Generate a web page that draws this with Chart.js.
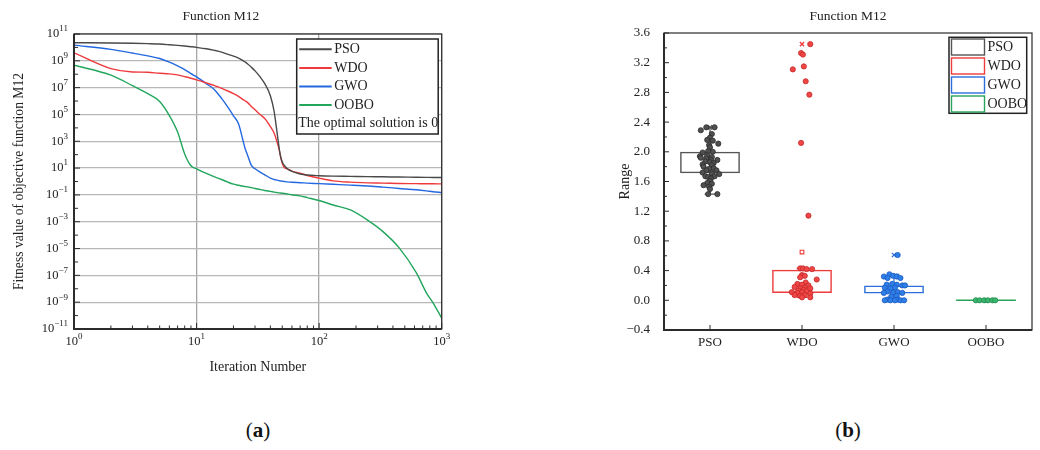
<!DOCTYPE html>
<html>
<head>
<meta charset="utf-8">
<title>Function M12</title>
<script src="https://cdn.jsdelivr.net/npm/chart.js@4.4.1/dist/chart.umd.min.js"></script>
<style>
  body { margin: 0; background: #fff; width: 1040px; height: 450px; position: relative; overflow: hidden; }
  .panel { position: absolute; top: 0; height: 390px; }
  #left { left: 0; width: 530px; }
  #right { left: 560px; width: 480px; }
  .tag { position: absolute; top: 418px; width: 100px; text-align: center;
         font: 21px "Liberation Serif", serif; color: #111; }
</style>
</head>
<body>
<div class="panel" id="left"><canvas id="curveChart"></canvas></div>
<div class="panel" id="right"><canvas id="boxChart"></canvas></div>
<div class="tag" style="left:208px">(<b>a</b>)</div>
<div class="tag" style="left:798px">(<b>b</b>)</div>
<script>
// ---- convergence curves (best fitness per iteration) ----
const iterations = [1, 2, 3, 4, 5, 6, 7, 8, 9, 10, 12, 14, 16, 18, 20, 22, 24, 25, 26, 28, 30, 33, 36, 40,
  43, 45, 47, 48, 50, 52, 55, 60, 70, 80, 100, 130, 180, 250, 330, 450, 620, 750, 850, 1000];

const psoFitness = [2.24e10, 2.14e10, 2.04e10, 1.91e10, 1.78e10, 1.58e10, 1.41e10, 1.26e10, 1.12e10, 1.0e10,
  7.94e9, 6.03e9, 4.47e9, 3.02e9, 2.24e9, 1.58e9, 1.0e9, 7.94e8, 6.03e8, 3.31e8, 1.78e8, 6.31e7, 2.0e7, 2.51e6,
  1.58e5, 7.94e3, 398, 112, 28.2, 15.8, 8.91, 5.62, 3.63, 3.02, 2.69, 2.51, 2.4, 2.29, 2.24, 2.14, 2.09, 2.04, 2.0, 2.0];

const wdoFitness = [3.98e9, 2.63e8, 1.48e8, 1.41e8, 1.17e8, 1.07e8, 8.91e7, 6.61e7, 5.01e7, 3.8e7,
  2.24e7, 1.41e7, 8.91e6, 5.62e6, 3.55e6, 2.24e6, 1.26e6, 1.0e6, 7.94e5, 3.98e5, 2.24e5, 1.0e5, 5.01e4, 1.26e4,
  3.98e3, 1.12e3, 282, 112, 22.4, 11.2, 8.91, 6.03, 4.17, 2.82, 1.78, 1.12, 0.891, 0.794, 0.759, 0.708, 0.692, 0.676, 0.676, 0.661];

const gwoFitness = [1.48e10, 7.08e9, 3.8e9, 2.34e9, 1.48e9, 7.94e8, 4.17e8, 2.24e8, 1.12e8, 6.31e7,
  2.0e7, 7.08e6, 1.58e6, 3.55e5, 7.94e4, 2.0e4, 1.0e3, 251, 100, 15.8, 8.91, 5.01, 3.16, 1.78,
  1.41, 1.26, 1.15, 1.12, 1.05, 1.0, 0.933, 0.871, 0.813, 0.759, 0.692, 0.617, 0.537, 0.457, 0.380, 0.302, 0.240, 0.200, 0.174, 0.151];

const ooboFitness = [4.68e8, 8.51e7, 1.41e7, 3.55e6, 9.33e5, 8.32e4, 5.01e3, 112, 14.8, 8.91,
  3.98, 2.24, 1.41, 0.891, 0.631, 0.525, 0.447, 0.417, 0.398, 0.347, 0.302, 0.251, 0.214, 0.182,
  0.162, 0.151, 0.141, 0.138, 0.132, 0.126, 0.117, 0.102, 0.0851, 0.0631, 0.038, 0.0178, 7.59e-3, 1.26e-3,
  1.91e-4, 1.12e-5, 1.58e-7, 5.01e-9, 8.91e-10, 6.46e-11];

// decade exponents used for the log axis labels
const iterTickPowers = [0, 1, 2, 3];
const fitnessTickPowers = [11, 10, 9, 8, 7, 6, 5, 4, 3, 2, 1, 0, -1, -2, -3, -4, -5, -6, -7, -8, -9, -10, -11];

// ---- range of final results over independent runs ----
const algorithms = ['PSO', 'WDO', 'GWO', 'OOBO'];
const rangeTicks = [-0.4, 0, 0.4, 0.8, 1.2, 1.6, 2.0, 2.4, 2.8, 3.2, 3.6];
const boxLower = [1.71, 0.10, 0.09, 0];
const boxUpper = [2.00, 0.41, 0.20, 0];
const whiskerLow = [1.43, 0.04, 0.0, 0];
const whiskerHigh = [2.33, 0.43, 0.35, 0];
const meanValues = [1.86, 0.65, 0.17, 0];
const maxValues = [2.33, 3.45, 0.61, null];

// each run: [horizontal jitter in category units, range value]
const psoRuns = [[-0.04, 2.33], [0.05, 2.33], [-0.10, 2.29], [0.02, 2.24], [0.00, 2.19], [-0.03, 2.16], [0.03, 2.15],
  [0.09, 2.11], [-0.01, 2.09], [0.00, 2.06], [-0.02, 2.01], [0.03, 2.00], [-0.08, 1.99], [-0.03, 1.95], [-0.11, 1.94],
  [0.02, 1.93], [-0.10, 1.92], [-0.04, 1.91], [0.08, 1.89], [0.01, 1.89], [-0.05, 1.87], [0.00, 1.86], [0.04, 1.85],
  [-0.08, 1.83], [0.02, 1.82], [-0.07, 1.80], [0.04, 1.78], [-0.01, 1.77], [0.07, 1.75], [-0.04, 1.75], [-0.08, 1.72],
  [0.02, 1.71], [0.10, 1.70], [-0.05, 1.67], [0.05, 1.67], [-0.02, 1.66], [0.01, 1.64], [0.00, 1.61], [-0.03, 1.58],
  [0.02, 1.57], [-0.07, 1.55], [-0.01, 1.53], [0.00, 1.50], [-0.02, 1.43], [0.08, 1.43]];
const wdoRuns = [[0.09, 3.45], [-0.01, 3.33], [0.01, 3.31], [0.02, 3.15], [-0.10, 3.11], [0.04, 2.95], [0.08, 2.77],
  [-0.01, 2.12], [0.07, 1.14], [-0.02, 0.43], [0.01, 0.43], [0.05, 0.42], [0.11, 0.42], [0.00, 0.34], [0.03, 0.33],
  [-0.02, 0.31], [0.16, 0.28], [0.04, 0.24], [-0.05, 0.22], [0.00, 0.21], [0.07, 0.20], [-0.08, 0.18], [0.03, 0.17],
  [-0.02, 0.16], [0.09, 0.16], [0.02, 0.14], [-0.04, 0.13], [0.05, 0.12], [-0.11, 0.11], [0.00, 0.11], [-0.05, 0.10],
  [0.09, 0.09], [-0.08, 0.07], [0.03, 0.07], [-0.02, 0.06], [0.00, 0.04], [0.09, 0.04]];
const gwoRuns = [[0.04, 0.61], [-0.05, 0.35], [-0.01, 0.33], [-0.11, 0.32], [0.03, 0.32], [-0.07, 0.30], [0.07, 0.30],
  [-0.02, 0.22], [-0.08, 0.21], [0.03, 0.21], [0.09, 0.20], [0.12, 0.20], [-0.10, 0.17], [0.01, 0.17], [-0.04, 0.16],
  [-0.07, 0.12], [0.04, 0.11], [-0.01, 0.10], [0.09, 0.10], [-0.11, 0.10], [0.03, 0.06], [-0.03, 0.05],
  [-0.07, 0.01], [0.04, 0.01], [-0.10, 0.00], [-0.04, 0.00], [0.01, 0.00], [0.07, 0.00], [0.11, 0.00]];
const ooboRuns = [[-0.11, 0], [-0.07, 0], [-0.02, 0], [0.02, 0], [0.07, 0], [0.10, 0]];

const allRuns = [psoRuns, wdoRuns, gwoRuns, ooboRuns];

// colours
const lineColors = ['#4a4a4a', '#ef3a3d', '#2468e0', '#22a65c'];
const boxColors = ['#555555', '#ee3b3b', '#2c6fdc', '#27a35a'];
const dotFill = ['#505050', '#f04646', '#2f7fe8', '#3cb56e'];
const dotEdge = ['#2c2c2c', '#c42a2a', '#1b5bc0', '#1f8a4c'];

const serif = '"Liberation Serif", "Times New Roman", serif';
Chart.defaults.font.family = serif;
Chart.defaults.color = '#222';
Chart.defaults.animation = false;

// frame around the plot area plus inward tick marks
const frameTicks = {
  id: 'frameTicks',
  afterDatasetsDraw(chart, args, opts) {
    const { ctx, chartArea: a } = chart;
    const xs = chart.scales[opts.xScale];
    const ys = chart.scales.y;
    ctx.save();
    ctx.strokeStyle = '#2b2b2b';
    ctx.lineWidth = 1;
    opts.xTicks.forEach(t => {
      const px = xs.getPixelForValue(t.value);
      ctx.beginPath();
      ctx.moveTo(px, a.bottom);
      ctx.lineTo(px, a.bottom - t.len);
      ctx.stroke();
    });
    opts.yTicks.forEach(t => {
      const py = ys.getPixelForValue(t.value);
      ctx.beginPath();
      ctx.moveTo(a.left, py);
      ctx.lineTo(a.left + t.len, py);
      ctx.stroke();
    });
    ctx.lineWidth = 1.2;
    ctx.strokeRect(a.left, a.top, a.right - a.left, a.bottom - a.top);
    ctx.lineWidth = 2;
    ctx.beginPath();
    ctx.moveTo(a.left, a.top);
    ctx.lineTo(a.left, a.bottom);
    ctx.lineTo(a.right, a.bottom);
    ctx.stroke();
    ctx.restore();
  }
};

// "10" with a raised exponent
function drawPower(ctx, exp, x, y, align) {
  const sup = String(exp).replace('-', '\u2212');
  ctx.font = '12.5px ' + serif;
  const wb = ctx.measureText('10').width;
  ctx.font = '9px ' + serif;
  const ws = ctx.measureText(sup).width;
  const x0 = align === 'center' ? x - (wb + ws) / 2 : x - wb - ws;
  ctx.textAlign = 'left';
  ctx.textBaseline = 'middle';
  ctx.font = '12.5px ' + serif;
  ctx.fillText('10', x0, y);
  ctx.font = '9px ' + serif;
  ctx.fillText(sup, x0 + wb, y - 5);
}

const powerLabels = {
  id: 'powerLabels',
  afterDraw(chart) {
    const { ctx, chartArea: a, scales } = chart;
    ctx.save();
    ctx.fillStyle = '#222';
    iterTickPowers.forEach(e => drawPower(ctx, e, scales.x.getPixelForValue(10 ** e), a.bottom + 13, 'center'));
    fitnessTickPowers.filter(e => e % 2 !== 0)
      .forEach(e => drawPower(ctx, e, a.left - 6, scales.y.getPixelForValue(10 ** e), 'right'));
    ctx.restore();
  }
};

// framed legend with line samples and a note underneath
const lineLegend = {
  id: 'lineLegend',
  afterDraw(chart, args, opts) {
    const { ctx, chartArea: a } = chart;
    const right = a.right - 3.5, left = right - 141.5, top = a.top + 5, h = 95;
    ctx.save();
    ctx.fillStyle = '#fff';
    ctx.fillRect(left, top, right - left, h);
    ctx.strokeStyle = '#222';
    ctx.lineWidth = 1.5;
    ctx.strokeRect(left, top, right - left, h);
    ctx.font = '14px ' + serif;
    ctx.textBaseline = 'middle';
    ctx.textAlign = 'left';
    chart.data.datasets.forEach((ds, i) => {
      const y = top + 10.3 + i * 18.6;
      ctx.strokeStyle = ds.borderColor;
      ctx.lineWidth = 2;
      ctx.beginPath();
      ctx.moveTo(left + 2.5, y);
      ctx.lineTo(left + 35, y);
      ctx.stroke();
      ctx.fillStyle = '#222';
      ctx.fillText(ds.label, left + 37.5, y);
    });
    ctx.fillText(opts.note, left + 1.5, top + 84.5);
    ctx.restore();
  }
};

const minorIterTicks = [];
[1, 10, 100].forEach(d => { for (let m = 2; m <= 9; m++) minorIterTicks.push({ value: d * m, len: 3.5 }); });

new Chart(document.getElementById('curveChart'), {
  type: 'line',
  data: {
    datasets: [psoFitness, wdoFitness, gwoFitness, ooboFitness].map((vals, i) => ({
      label: algorithms[i],
      data: iterations.map((it, k) => ({ x: it, y: vals[k] })),
      borderColor: lineColors[i],
      borderWidth: 1.4,
      pointRadius: 0,
      cubicInterpolationMode: 'monotone',
      fill: false
    }))
  },
  options: {
    responsive: true,
    maintainAspectRatio: false,
    layout: { padding: { left: 0, right: 88.3, top: 0, bottom: 0 } },
    plugins: {
      legend: { display: false },
      tooltip: { enabled: false },
      title: {
        display: true,
        text: 'Function M12',
        color: '#222',
        font: { size: 13.5, weight: 'normal' },
        padding: { top: 8, bottom: 9.8 }
      },
      frameTicks: {
        xScale: 'x',
        xTicks: iterTickPowers.map(e => ({ value: 10 ** e, len: 6 })).concat(minorIterTicks),
        yTicks: fitnessTickPowers.map(e => ({ value: 10 ** e, len: e % 2 ? 6 : 4 }))
      },
      lineLegend: { note: 'The optimal solution is 0' }
    },
    scales: {
      x: {
        type: 'logarithmic',
        min: 1,
        max: 1000,
        afterBuildTicks: s => { s.ticks = iterTickPowers.map(e => ({ value: 10 ** e })); },
        afterFit: s => { s.height = 61; },
        ticks: { display: false },
        grid: { color: '#a6a6a6', lineWidth: 1.3, drawTicks: false },
        border: { display: false },
        title: {
          display: true,
          text: 'Iteration Number',
          font: { size: 14 },
          padding: { top: 0, bottom: 13.9 }
        }
      },
      y: {
        type: 'logarithmic',
        min: 1e-11,
        max: 1e11,
        afterBuildTicks: s => {
          s.ticks = fitnessTickPowers.filter(e => e % 2 !== 0).map(e => ({ value: 10 ** e }));
        },
        afterFit: s => { s.width = 74; },
        ticks: { display: false },
        grid: { color: '#b8b8b8', lineWidth: 1.3, drawTicks: false },
        border: { display: false },
        title: {
          display: true,
          text: 'Fitness value of objective function M12',
          font: { size: 13.6 },
          padding: { top: 11.6, bottom: 0 }
        }
      }
    }
  },
  plugins: [frameTicks, powerLabels, lineLegend]
});

// whiskers of each box, drawn under the run markers
const boxWhiskers = {
  id: 'boxWhiskers',
  beforeDatasetsDraw(chart) {
    const { ctx } = chart;
    const ys = chart.scales.y;
    const meta = chart.getDatasetMeta(0);
    ctx.save();
    ctx.lineWidth = 1.2;
    meta.data.forEach((bar, g) => {
      const cap = bar.width * 0.18;
      ctx.strokeStyle = boxColors[g];
      [[boxUpper[g], whiskerHigh[g]], [boxLower[g], whiskerLow[g]]].forEach(([from, to]) => {
        const y0 = ys.getPixelForValue(from), y1 = ys.getPixelForValue(to);
        ctx.beginPath();
        ctx.moveTo(bar.x, y0);
        ctx.lineTo(bar.x, y1);
        ctx.moveTo(bar.x - cap / 2, y1);
        ctx.lineTo(bar.x + cap / 2, y1);
        ctx.stroke();
      });
      if (boxUpper[g] === boxLower[g]) {
        const y = ys.getPixelForValue(boxUpper[g]);
        ctx.lineWidth = 1.5;
        ctx.beginPath();
        ctx.moveTo(bar.x - bar.width / 2, y);
        ctx.lineTo(bar.x + bar.width / 2, y);
        ctx.stroke();
        ctx.lineWidth = 1.2;
      }
    });
    ctx.restore();
  }
};

// framed legend with box samples
const boxLegend = {
  id: 'boxLegend',
  afterDraw(chart) {
    const { ctx, chartArea: a } = chart;
    const right = a.right - 5.3, left = right - 77.7, top = a.top + 4.3, h = 76;
    ctx.save();
    ctx.fillStyle = '#fff';
    ctx.fillRect(left, top, right - left, h);
    ctx.strokeStyle = '#222';
    ctx.lineWidth = 1.5;
    ctx.strokeRect(left, top, right - left, h);
    ctx.font = '14px ' + serif;
    ctx.textBaseline = 'middle';
    ctx.textAlign = 'left';
    algorithms.forEach((name, i) => {
      const y = top + 9.7 + i * 19;
      ctx.strokeStyle = boxColors[i];
      ctx.lineWidth = 1.4;
      ctx.strokeRect(left + 2.5, y - 8, 33, 16);
      ctx.fillStyle = '#222';
      ctx.fillText(name, left + 38.5, y);
    });
    ctx.restore();
  }
};

const fmtRange = v => (v < 0 ? '\u2212' + Math.abs(v).toFixed(1) : v.toFixed(1));
const minorRangeTicks = rangeTicks.slice(1).map((v, i) => ({ value: (v + rangeTicks[i]) / 2, len: 3 }));

new Chart(document.getElementById('boxChart'), {
  type: 'bar',
  data: {
    labels: algorithms,
    datasets: [
      {
        type: 'bar',
        label: 'IQR',
        data: boxLower.map((lo, i) => [lo, boxUpper[i]]),
        xAxisID: 'x',
        grouped: false,
        backgroundColor: 'rgba(255,255,255,0)',
        borderColor: boxColors,
        borderWidth: 1.5,
        borderSkipped: false,
        barPercentage: 0.65,
        categoryPercentage: 1,
        order: 3
      },
      {
        type: 'scatter',
        label: 'Mean',
        data: meanValues.map((v, g) => ({ x: g + 1, y: v })),
        xAxisID: 'xj',
        pointStyle: 'rect',
        pointRadius: 2.6,
        pointBackgroundColor: '#fff',
        pointBorderColor: boxColors,
        pointBorderWidth: 1.1,
        order: 2
      },
      {
        type: 'scatter',
        label: 'Max',
        data: maxValues.map((v, g) => ({ x: g + 1, y: v })),
        xAxisID: 'xj',
        pointStyle: 'crossRot',
        pointRadius: 3,
        pointBorderColor: boxColors,
        pointBorderWidth: 1.3,
        order: 2
      },
      ...allRuns.map((runs, g) => ({
        type: 'scatter',
        label: algorithms[g],
        data: runs.map(([dx, v]) => ({ x: g + 1 + dx, y: v })),
        xAxisID: 'xj',
        pointRadius: 2.6,
        pointBackgroundColor: dotFill[g],
        pointBorderColor: dotEdge[g],
        pointBorderWidth: 0.8,
        order: 0
      }))
    ]
  },
  options: {
    responsive: true,
    maintainAspectRatio: false,
    layout: { padding: { left: 0, right: 8, top: 0, bottom: 0 } },
    plugins: {
      legend: { display: false },
      tooltip: { enabled: false },
      title: {
        display: true,
        fullSize: false,
        text: 'Function M12',
        color: '#222',
        font: { size: 13.5, weight: 'normal' },
        padding: { top: 8, bottom: 8.8 }
      },
      frameTicks: {
        xScale: 'xj',
        xTicks: algorithms.map((_, g) => ({ value: g + 1, len: 5 })),
        yTicks: rangeTicks.map(v => ({ value: v, len: 5 })).concat(minorRangeTicks)
      }
    },
    scales: {
      x: {
        type: 'category',
        offset: true,
        afterFit: s => { s.height = 60; },
        grid: { display: false },
        border: { display: false },
        ticks: { font: { size: 13 }, color: '#222', padding: -3 }
      },
      xj: {
        type: 'linear',
        display: false,
        offset: false,
        min: 0.5,
        max: 4.5
      },
      y: {
        min: -0.4,
        max: 3.6,
        afterBuildTicks: s => { s.ticks = rangeTicks.map(v => ({ value: v })); },
        afterFit: s => { s.width = 104; },
        grid: { display: false },
        border: { display: false },
        ticks: { font: { size: 13 }, color: '#222', padding: 6, callback: v => fmtRange(v) },
        title: {
          display: true,
          text: 'Range',
          font: { size: 14 },
          padding: { top: 56.6, bottom: 0 }
        }
      }
    }
  },
  plugins: [boxWhiskers, frameTicks, boxLegend]
});
</script>
</body>
</html>
